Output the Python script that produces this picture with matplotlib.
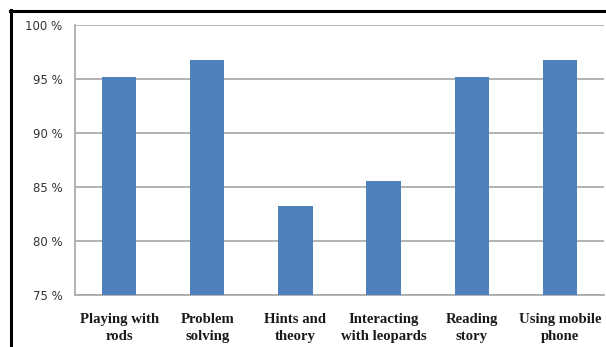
import matplotlib
matplotlib.use("Agg")
import matplotlib.pyplot as plt
from matplotlib.lines import Line2D

categories = ["Playing with\nrods", "Problem\nsolving", "Hints and\ntheory",
              "Interacting\nwith leopards", "Reading\nstory", "Using mobile\nphone"]
values = [95.2, 96.75, 83.2, 85.6, 95.2, 96.75]
yticks = [75, 80, 85, 90, 95, 100]

W, H = 606, 347
fig = plt.figure(figsize=(W / 100, H / 100), dpi=100)
ax = fig.add_axes([75 / W, 1 - 295 / H, (604 - 75) / W, (295 - 25) / H])

x = list(range(len(categories)))
ax.bar(x, values, width=0.39, color="#4F81BD", zorder=3, bottom=0)
ax.set_xlim(-0.5, len(categories) - 0.5)
ax.set_ylim(75, 100)
ax.set_yticks(yticks)
ax.set_yticklabels([f"{t} %" for t in yticks], fontsize=8.5, color="#333333",
                   family="DejaVu Sans")
ax.set_xticks(x)
ax.set_xticklabels(categories, fontsize=10.6, fontweight="bold",
                   family="Liberation Serif", linespacing=1.4, color="#1a1a1a")
ax.tick_params(axis="y", length=0, pad=9)
ax.tick_params(axis="x", length=0, pad=13)
ax.yaxis.grid(True, color="#a6a6a6", linewidth=1.2, zorder=0)
for side in ("top", "right"):
    ax.spines[side].set_visible(False)
for side in ("left", "bottom"):
    ax.spines[side].set_color("#a6a6a6")
    ax.spines[side].set_linewidth(1.2)

# black frame on the left and top edges
fig.add_artist(Line2D([11 / W, 11 / W], [0, 1 - 10 / H], color="black",
                      linewidth=2.2, transform=fig.transFigure))
fig.add_artist(Line2D([10 / W, 1], [1 - 11 / H, 1 - 11 / H], color="black",
                      linewidth=2.2, transform=fig.transFigure))

fig.savefig("out.png", dpi=100)
